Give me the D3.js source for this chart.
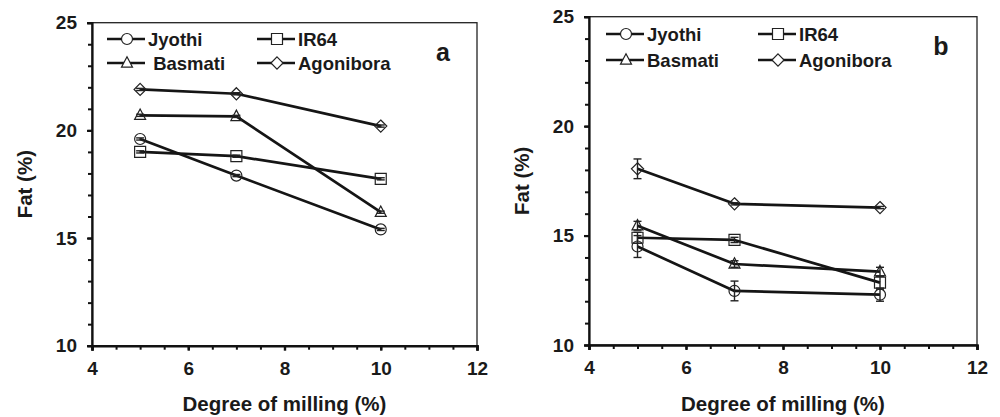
<!DOCTYPE html>
<html>
<head>
<meta charset="utf-8">
<script src="https://cdn.jsdelivr.net/npm/d3@7"></script>
<style>
  body { margin: 0; background: #fff; }
  svg text { font-family: "Liberation Sans", Arial, sans-serif; font-weight: bold; fill: #1a1a1a; }
</style>
</head>
<body>
<svg id="chart" width="1000" height="417"></svg>
<script>
// degree of milling (%)
const milling = [5, 7, 10];
const cultivars = ["Jyothi", "IR64", "Basmati", "Agonibora"];
const shapes = ["circle", "square", "triangle", "diamond"];

// panel a - fat (%)
const jyothiA    = [19.6, 17.9, 15.4];
const ir64A      = [19.0, 18.8, 17.75];
const basmatiA   = [20.7, 20.65, 16.2];
const agoniboraA = [21.9, 21.7, 20.2];
const errA       = [0.05, 0.05, 0.05];

// panel b - fat (%)
const jyothiB       = [14.5, 12.47, 12.3];
const ir64B         = [14.9, 14.8, 12.85];
const basmatiB      = [15.45, 13.7, 13.35];
const agoniboraB    = [18.05, 16.45, 16.28];
const jyothiErrB    = [0.5, 0.45, 0.3];
const ir64ErrB      = [0.25, 0.12, 0.3];
const basmatiErrB   = [0.2, 0.15, 0.2];
const agoniboraErrB = [0.45, 0.05, 0.05];

const xTicks = [4, 6, 8, 10, 12];
const yTicks = [10, 15, 20, 25];
const legendA = ["Jyothi", "IR64", " Basmati", "Agonibora"];
const legendB = cultivars;

const svg = d3.select("#chart");

// glyph for a marker, centred on 0,0
markerPath = function(shape, s) {
  if (shape === "circle") return d3.symbol(d3.symbolCircle, Math.PI * s * s / 4)();
  if (shape === "square") return "M" + (-s/2) + "," + (-s/2) + "h" + s + "v" + s + "h" + (-s) + "Z";
  if (shape === "triangle") {
    const h = s * 0.95;
    return "M0," + (-h*0.6) + "L" + (s/2) + "," + (h*0.4) + "L" + (-s/2) + "," + (h*0.4) + "Z";
  }
  const r = s * 0.55;
  return "M0," + (-r) + "L" + r + ",0L0," + r + "L" + (-r) + ",0Z";
}

drawPanel = function(p) {
  const x = d3.scaleLinear().domain([4, 12]).range([p.left, p.right]);
  const y = d3.scaleLinear().domain([10, 25]).range([p.bottom, p.top]);
  const g = svg.append("g");

  // frame
  g.append("rect")
   .attr("x", p.left).attr("y", p.top)
   .attr("width", p.right - p.left).attr("height", p.bottom - p.top)
   .attr("fill", "none").attr("stroke", "#222").attr("stroke-width", 1.3);

  const line = d3.line().x((d, i) => x(milling[i])).y(d => y(d));

  p.series.forEach((s, k) => {
    g.append("path")
     .attr("d", line(s.values))
     .attr("fill", "none")
     .attr("stroke", "#151515")
     .attr("stroke-width", 2.7)
     .attr("stroke-linejoin", "round");
  });

  p.series.forEach((s, k) => {
    g.selectAll(null).data(s.values).join("path")
     .attr("transform", (d, i) => "translate(" + x(milling[i]) + "," + y(d) + ")")
     .attr("d", markerPath(shapes[k], 11))
     .attr("fill", "none")
     .attr("stroke", "#222")
     .attr("stroke-width", 1.2);

    // error bars
    s.values.forEach((v, i) => {
      const cx = x(milling[i]), e = s.err[i];
      const eb = g.append("g").attr("stroke", "#222").attr("stroke-width", 1.4);
      eb.append("line").attr("x1", cx).attr("x2", cx).attr("y1", y(v - e)).attr("y2", y(v + e));
      eb.append("line").attr("x1", cx - 4).attr("x2", cx + 4).attr("y1", y(v - e)).attr("y2", y(v - e));
      eb.append("line").attr("x1", cx - 4).attr("x2", cx + 4).attr("y1", y(v + e)).attr("y2", y(v + e));
    });
  });

  // axes with minor ticks
  const minorX = d3.range(4, 12.01, 0.5);
  const minorY = d3.range(10, 25.01, 1);

  g.append("g").attr("transform", "translate(0," + p.bottom + ")")
   .call(d3.axisBottom(x).tickValues(minorX).tickSize(4).tickFormat(""))
   .call(a => a.select(".domain").remove())
   .selectAll("line").attr("stroke", "#111").attr("stroke-width", 2);

  g.append("g").attr("transform", "translate(" + p.left + ",0)")
   .call(d3.axisLeft(y).tickValues(minorY).tickSize(4).tickFormat(""))
   .call(a => a.select(".domain").remove())
   .selectAll("line").attr("stroke", "#111").attr("stroke-width", 2);

  const ax = g.append("g").attr("transform", "translate(0," + p.bottom + ")")
   .call(d3.axisBottom(x).tickValues(xTicks).tickSize(5).tickPadding(11).tickFormat(d3.format("d")));
  ax.attr("font-size", null).attr("font-family", null);
  ax.select(".domain").attr("stroke", "#111").attr("stroke-width", 2.6);
  ax.selectAll("line").attr("stroke", "#111").attr("stroke-width", 2.4);
  ax.selectAll("text").style("font-size", "19px").style("font-weight", "bold").attr("fill", "#1a1a1a");

  const ay = g.append("g").attr("transform", "translate(" + p.left + ",0)")
   .call(d3.axisLeft(y).tickValues(yTicks).tickSize(5).tickPadding(10).tickFormat(d3.format("d")));
  ay.attr("font-size", null).attr("font-family", null);
  ay.select(".domain").attr("stroke", "#111").attr("stroke-width", 2.2);
  ay.selectAll("line").attr("stroke", "#111").attr("stroke-width", 2.2);
  ay.selectAll("text").style("font-size", "19px").style("font-weight", "bold").attr("fill", "#1a1a1a");

  // axis titles
  g.append("text")
   .attr("x", (p.left + p.right) / 2).attr("y", 411)
   .attr("text-anchor", "middle").style("font-size", "20.5px")
   .text("Degree of milling (%)");

  g.append("text")
   .attr("transform", "translate(" + (p.left - 60) + "," + ((p.top + p.bottom) / 2) + ") rotate(-90)")
   .attr("text-anchor", "middle").style("font-size", "20.5px")
   .text("Fat (%)");

  // panel letter
  g.append("text")
   .attr("x", p.letterX).attr("y", p.letterY)
   .attr("text-anchor", "middle").style("font-size", "25px")
   .text(p.letter);

  // legend
  p.legend.forEach((name, k) => {
    const col = k % 2, row = Math.floor(k / 2);
    const lx = p.left + p.legendX[col];
    const ly = p.legendY[row];
    const lg = g.append("g");
    lg.append("line")
      .attr("x1", lx).attr("x2", lx + 38).attr("y1", ly).attr("y2", ly)
      .attr("stroke", "#151515").attr("stroke-width", 2.7);
    lg.append("path")
      .attr("transform", "translate(" + (lx + 20) + "," + ly + ")")
      .attr("d", markerPath(shapes[k], 11))
      .attr("fill", "#fff").attr("stroke", "#222").attr("stroke-width", 1.2);
    lg.append("text")
      .attr("x", lx + 41).attr("y", ly + 6.5)
      .style("font-size", "18.5px")
      .style("white-space", "pre")
      .text(name);
  });
}

drawPanel({
  left: 92, right: 477, top: 22.7, bottom: 345.7,
  letter: "a", letterX: 443, letterY: 61,
  legend: legendA, legendX: [15, 165], legendY: [39, 63],
  series: [
    {values: jyothiA, err: errA},
    {values: ir64A, err: errA},
    {values: basmatiA, err: errA},
    {values: agoniboraA, err: errA}
  ]
});

drawPanel({
  left: 589, right: 977, top: 16.7, bottom: 345,
  letter: "b", letterX: 941, letterY: 55,
  legend: legendB, legendX: [17, 169], legendY: [34, 60],
  series: [
    {values: jyothiB, err: jyothiErrB},
    {values: ir64B, err: ir64ErrB},
    {values: basmatiB, err: basmatiErrB},
    {values: agoniboraB, err: agoniboraErrB}
  ]
});
</script>
</body>
</html>
